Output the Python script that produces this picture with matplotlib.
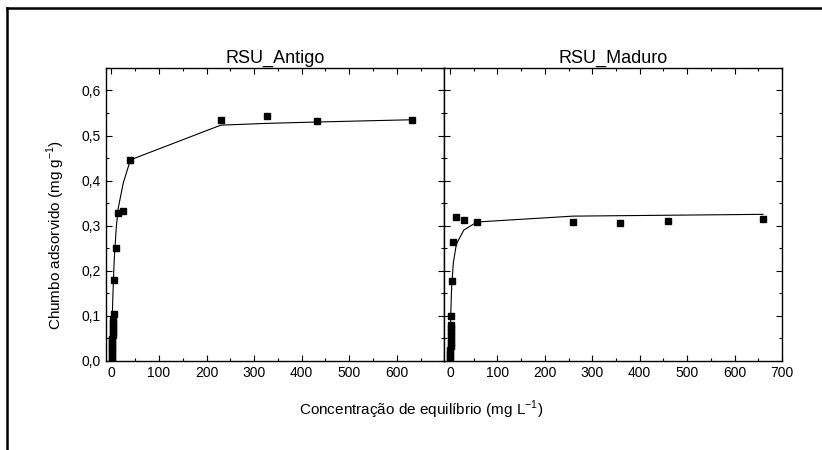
import numpy as np
import matplotlib.pyplot as plt
from matplotlib.lines import Line2D
from matplotlib.ticker import MultipleLocator, FuncFormatter

plt.rcParams['font.family'] = ['Liberation Sans', 'DejaVu Sans']
plt.rcParams['mathtext.fontset'] = 'custom'
plt.rcParams['mathtext.rm'] = 'Liberation Sans'

# RSU_Antigo
antigo_x = [0.3, 0.5, 0.8, 1.0, 1.2, 1.5, 1.8, 2.0, 2.3, 2.6, 3.0, 3.3, 3.5, 3.8, 5, 6, 10, 14, 25, 40, 230, 328, 432, 632]
antigo_y = [0.0, 0.007, 0.014, 0.021, 0.028, 0.035, 0.042, 0.049, 0.056, 0.063, 0.070, 0.077, 0.084, 0.090,
            0.103, 0.180, 0.250, 0.329, 0.332, 0.446, 0.535, 0.543, 0.533, 0.534]
antigo_fit_x = [0, 1, 2, 3, 5, 6, 10, 14, 25, 40, 230, 328, 432, 632]
antigo_fit_y = [0.0, 0.058, 0.104, 0.142, 0.200, 0.226, 0.293, 0.337, 0.395, 0.446, 0.523, 0.527, 0.530, 0.535]

# RSU_Maduro
maduro_x = [0.3, 0.5, 0.8, 1.0, 1.2, 1.5, 1.8, 2.0, 2.3, 2.6, 3.0, 3.2, 3.6, 7, 13.5, 29, 57, 259, 359, 460, 660]
maduro_y = [0.0, 0.008, 0.016, 0.024, 0.032, 0.040, 0.048, 0.056, 0.064, 0.072, 0.080, 0.100, 0.177,
            0.264, 0.318, 0.313, 0.309, 0.308, 0.305, 0.311, 0.314]
maduro_fit_x = [0, 1, 2, 3, 3.6, 7, 13.5, 29, 57, 259, 359, 460, 660]
maduro_fit_y = [0.0, 0.072, 0.117, 0.149, 0.164, 0.217, 0.259, 0.290, 0.308, 0.321, 0.322, 0.323, 0.325]

fig = plt.figure(figsize=(8.22, 4.5), dpi=100)
ax1 = fig.add_axes([0.1286, 0.1984, 0.4119, 0.6506])
ax2 = fig.add_axes([0.5405, 0.1984, 0.4108, 0.6506], sharey=ax1)

comma = FuncFormatter(lambda v, p: f"{v:.1f}".replace(".", ","))

for ax, x, y, fx, fy, title in [(ax1, antigo_x, antigo_y, antigo_fit_x, antigo_fit_y, "RSU_Antigo"),
                                (ax2, maduro_x, maduro_y, maduro_fit_x, maduro_fit_y, "RSU_Maduro")]:
    ax.plot(fx, fy, color='black', lw=0.8, zorder=2)
    ax.plot(x, y, 's', color='black', ms=5, zorder=3)
    ax.set_xlim(-12, 700)
    ax.set_ylim(0, 0.65)
    ax.xaxis.set_major_locator(MultipleLocator(100))
    ax.xaxis.set_minor_locator(MultipleLocator(50))
    ax.yaxis.set_major_locator(MultipleLocator(0.1))
    ax.yaxis.set_minor_locator(MultipleLocator(0.05))
    ax.tick_params(which='both', direction='in', top=True, right=True, labelsize=10, width=0.8)
    ax.tick_params(which='major', length=4)
    ax.tick_params(which='minor', length=2.5)
    for s in ax.spines.values():
        s.set_linewidth(1.0)
    ax.set_title(title, fontsize=13, pad=4)

ax1.yaxis.set_major_formatter(comma)
ax1.set_xticks([0, 100, 200, 300, 400, 500, 600])
ax1.xaxis.set_minor_locator(MultipleLocator(50))
ax2.tick_params(labelleft=False)

ax1.set_ylabel("Chumbo adsorvido (mg g$^{-1}$)", fontsize=11)
ax1.yaxis.set_label_coords(-0.115, 0.43)
fig.text(421 / 822, 1 - 410 / 450, "Concentração de equilíbrio (mg L$^{-1}$)",
         ha='center', va='center', fontsize=11)

# outer frame
fig.add_artist(Line2D([7 / 822, 1.0], [1 - 8 / 450, 1 - 8 / 450], color='black', lw=1.8, transform=fig.transFigure))
fig.add_artist(Line2D([7 / 822, 7 / 822], [0.0, 1 - 8 / 450], color='black', lw=1.8, transform=fig.transFigure))

fig.savefig("out.png", dpi=100)
